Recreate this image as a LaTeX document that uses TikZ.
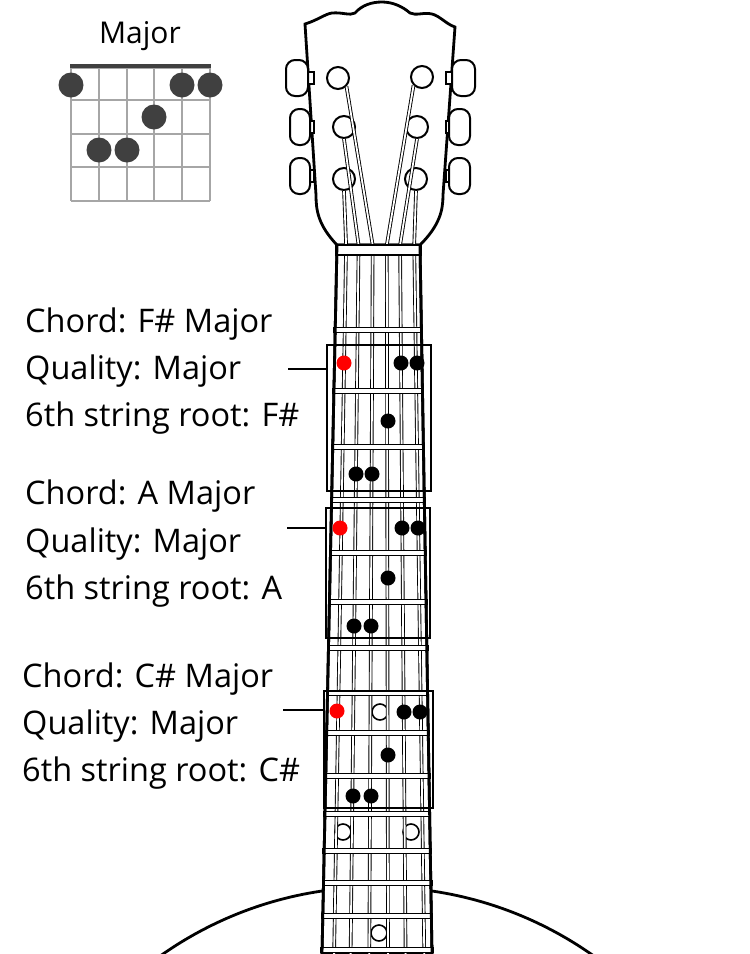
\documentclass[tikz,border=0pt]{standalone}
\usepackage{fontspec}
\setmainfont{Open Sans}
\begin{document}
\begin{tikzpicture}[x=1pt,y=-1pt,
  lbl/.style={anchor=west,font=\fontsize{32.5}{34}\selectfont,inner sep=0pt},
  strg/.style={line width=0.9pt,double=white,double distance=1.8pt},
  fretband/.style={draw,line width=1.5pt,fill=white},
  chordbox/.style={draw,line width=2.2pt},
  fdot/.style={circle,fill=black,inner sep=0pt,minimum size=15pt},
  rdot/.style={circle,fill=red,inner sep=0pt,minimum size=15pt},
  bdot/.style={circle,fill=black!75,inner sep=0pt,minimum size=25pt},
  fmarker/.style={circle,draw,line width=1.6pt,fill=white,inner sep=0pt,minimum size=16pt},
  peg/.style={draw,line width=2pt,rounded corners=9pt,fill=white},
  post/.style={circle,draw,line width=2pt,fill=white,inner sep=0pt,minimum size=22pt}]
\useasboundingbox (0,0) rectangle (750,954);
\fill[white] (0,0) rectangle (750,954);
% body
\begin{scope}
\clip (0,0) rectangle (750,954);
\draw[line width=2.8pt] (377,1262) circle (375);
\end{scope}
% headstock
\draw[line width=2.8pt,fill=white] (337,245) .. controls (318,225) and (316,210) .. (316,195)
 -- (305,24) .. controls (318,20) and (325,14) .. (332,13) .. controls (342,12) and (350,16) .. (355,13)
 .. controls (362,5) and (372,2) .. (382,2) .. controls (392,2) and (402,6) .. (410,13)
 .. controls (416,16) and (424,12) .. (432,14) .. controls (440,16) and (446,24) .. (455,27)
 -- (443,195) .. controls (443,210) and (440,225) .. (420,245) -- cycle;
% pegs
\foreach \y in {78,127,176}{
  \draw[line width=1.6pt,fill=white] (305,\y-6) rectangle (314,\y+6);
  \draw[line width=1.6pt,fill=white] (446,\y-6) rectangle (456,\y+6);
}
\draw[peg] (286,60) rectangle (308,96);
\draw[peg] (290,109) rectangle (310,145);
\draw[peg] (290,158) rectangle (310,194);
\draw[peg] (452,60) rectangle (475,96);
\draw[peg] (449,109) rectangle (470,145);
\draw[peg] (449,158) rectangle (470,194);
% neck outline fill
\draw[line width=2.8pt,fill=white] (337,245) -- (322,954) -- (432,954) -- (420,245) -- cycle;
% strings on fretboard
\foreach \f [count=\i] in {0.11,0.26,0.43,0.6,0.76,0.93}{
  \pgfmathsetmacro\xt{337+83*\f}
  \pgfmathsetmacro\xb{322+110*\f}
  \coordinate (s\i) at (\xt,245);
  \coordinate (sb\i) at (\xb,954);
}
% fret markers
\node[fmarker] (m1) at (380,712) {};
\node[fmarker] (m2) at (343,832) {};
\node[fmarker] (m3) at (411,832) {};
\node[fmarker] (m4) at (379,933) {};
\foreach \i in {1,...,6}{\draw[strg] (s\i) -- (sb\i);}
% posts and headstock strings
\node[post] (p1) at (338,78) {};
\node[post] (p2) at (344,127) {};
\node[post] (p3) at (344,179) {};
\node[post] (p4) at (422,77) {};
\node[post] (p5) at (417,127) {};
\node[post] (p6) at (416,179) {};
\draw[strg] (p1.south east) -- (s3);
\draw[strg] (p2.south) -- (s2);
\draw[strg] (p3.south) -- (s1);
\draw[strg] (p4.south west) -- (s4);
\draw[strg] (p5.south) -- (s5);
\draw[strg] (p6.south) -- (s6);
% nut
\draw[fretband] (336,245) rectangle (421,255);
% frets
\foreach \y in {330,391,447,500,553,602,648,693,733,776,814,851,883,916,950}{
  \pgfmathsetmacro\xl{337-15*(\y-245)/705-1}
  \pgfmathsetmacro\xr{420+12*(\y-245)/705+1}
  \draw[fretband] (\xl,\y-2.5) rectangle (\xr,\y+2.5);
}
\draw[line width=2.8pt] (337,245) -- (322,954) (432,954) -- (420,245);
% chord boxes
\draw[chordbox] (327,345) rectangle (431,491);
\draw[chordbox] (326,508) rectangle (430,638);
\draw[chordbox] (324,691) rectangle (433,808);
\coordinate (c1) at (327,369); \coordinate (e1) at (288,369);
\coordinate (c2) at (326,528); \coordinate (e2) at (287,528);
\coordinate (c3) at (324,710); \coordinate (e3) at (283,710);
\draw[line width=1.8pt] (c1) -- (e1) (c2) -- (e2) (c3) -- (e3);
% dots
\node[rdot] (r1) at (344,363) {};
\node[fdot] at (401,363) {}; \node[fdot] at (417,363) {};
\node[fdot] at (388,421) {};
\node[fdot] at (356,474) {}; \node[fdot] at (372,474) {};
\node[rdot] (r2) at (340,528) {};
\node[fdot] at (402,528) {}; \node[fdot] at (418,528) {};
\node[fdot] at (388,578) {};
\node[fdot] at (354,626) {}; \node[fdot] at (371,626) {};
\node[rdot] (r3) at (337,711) {};
\node[fdot] at (404,712) {}; \node[fdot] at (420,712) {};
\node[fdot] at (388,755) {};
\node[fdot] at (353,796) {}; \node[fdot] at (371,796) {};
% texts
\node[lbl] (t11) at (25,324) {Chord: F\# Major};
\node[lbl] (t12) at (25,371) {Quality: Major};
\node[lbl] (t13) at (25,418) {6th string root: F\#};
\node[lbl] (t21) at (25,496) {Chord: A Major};
\node[lbl] (t22) at (25,544) {Quality: Major};
\node[lbl] (t23) at (25,591) {6th string root: A};
\node[lbl] (t31) at (22,679) {Chord: C\# Major};
\node[lbl] (t32) at (22,726) {Quality: Major};
\node[lbl] (t33) at (22,773) {6th string root: C\#};
% chord diagram
\node[font=\fontsize{30}{32}\selectfont,inner sep=0pt] (title) at (140,36) {Major};
\foreach \x in {71,99,127,154,182,210}{\draw[gray!70,line width=1.2pt] (\x,68) -- (\x,201);}
\foreach \y in {68,100,134,167,201}{\draw[gray!70,line width=1.2pt] (71,\y) -- (210,\y);}
\draw[black!75,line width=4.5pt] (70,66) -- (211,66);
\node[bdot] at (71,85) {}; \node[bdot] at (182,85) {}; \node[bdot] at (210,85) {};
\node[bdot] at (154,117) {};
\node[bdot] at (99,150) {}; \node[bdot] at (127,150) {};
\end{tikzpicture}
\end{document}
